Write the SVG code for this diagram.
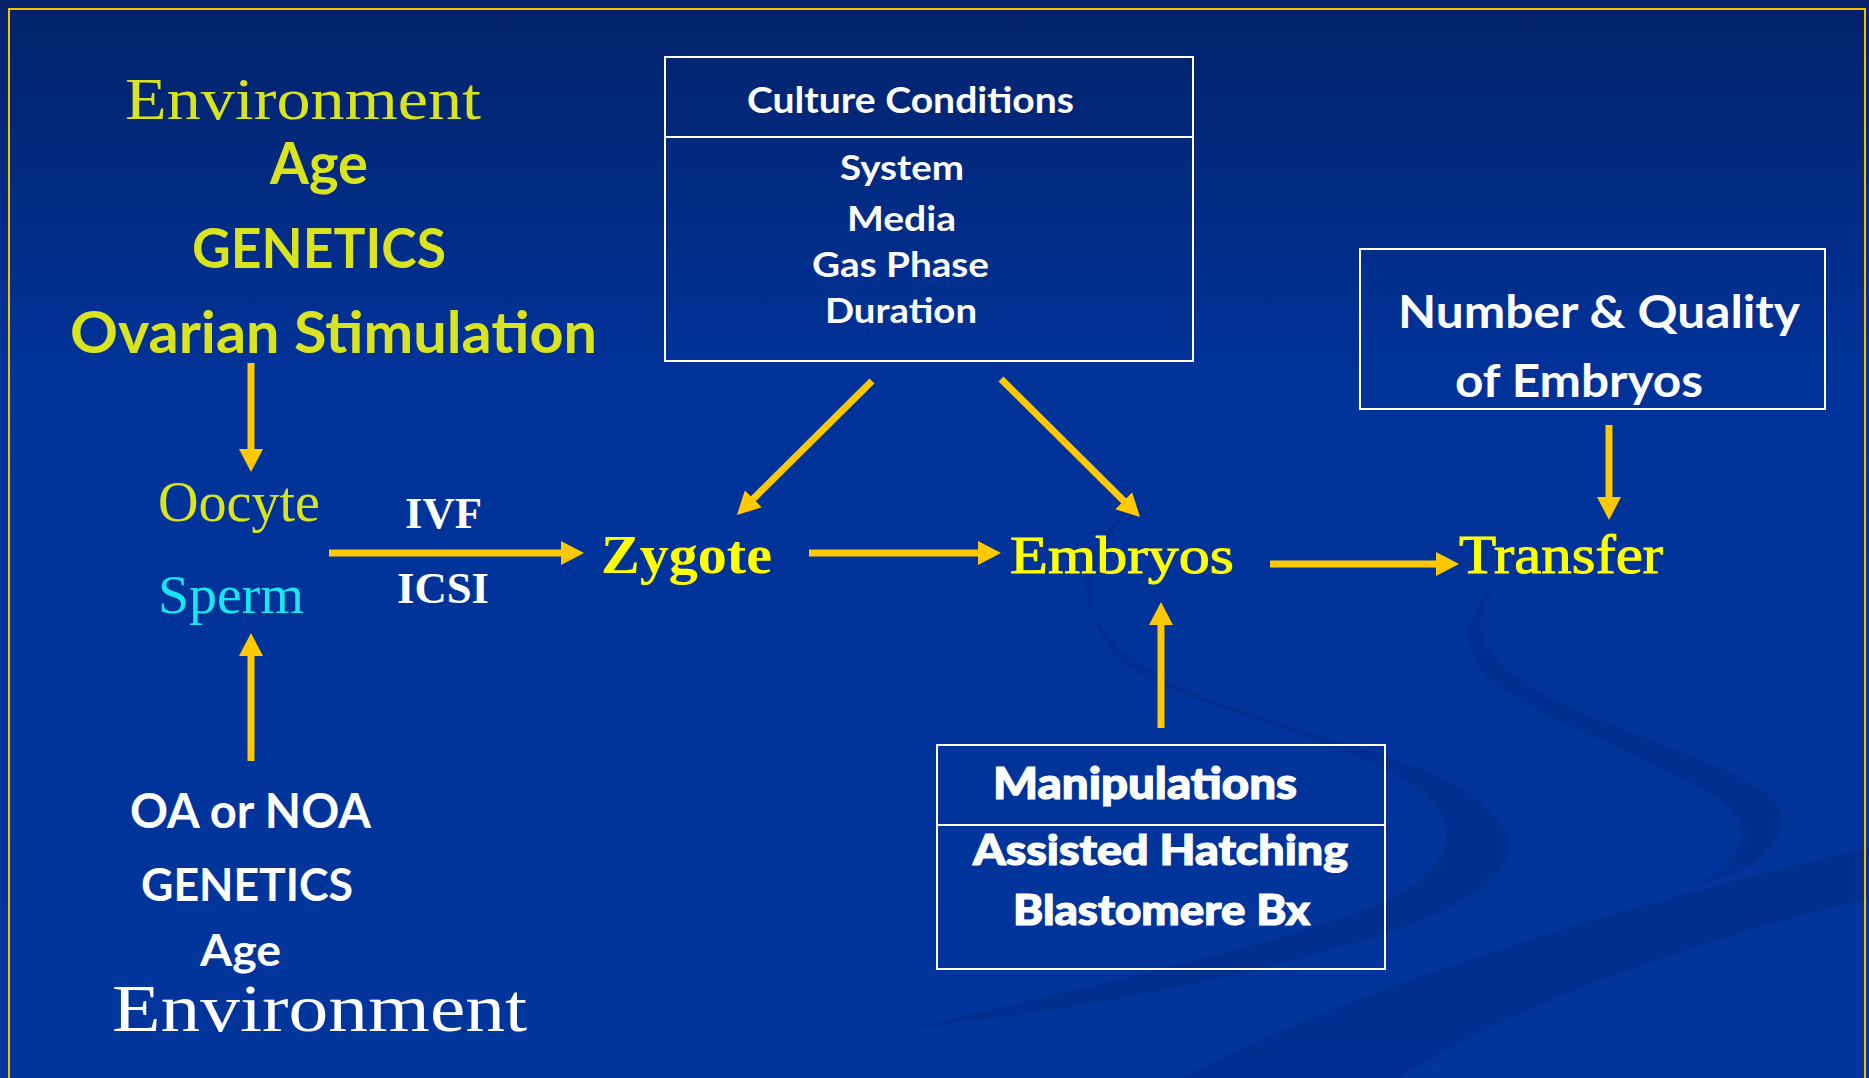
<svg xmlns="http://www.w3.org/2000/svg" width="1869" height="1078" viewBox="0 0 1869 1078">
  <defs>
    <linearGradient id="bg" x1="0" y1="0" x2="0" y2="1078" gradientUnits="userSpaceOnUse">
      <stop offset="0" stop-color="#03226a"/>
      <stop offset="0.35" stop-color="#00339a"/>
      <stop offset="1" stop-color="#00359c"/>
    </linearGradient>
    <marker id="ah" markerUnits="userSpaceOnUse" markerWidth="24" markerHeight="24" refX="1" refY="12" orient="auto">
      <path d="M0,0 L23,12 L0,24 Z" fill="#ffc800"/>
    </marker>
    <style>
      .serif { font-family: "Liberation Serif", "Times New Roman", serif; }
      .sans { font-family: Lato, "Open Sans", "Liberation Sans", sans-serif; font-weight: 700; }
      .heavy { font-family: Lato, "Open Sans", "Liberation Sans", sans-serif; font-weight: 900; stroke: #ffffff; stroke-width: 1.2; }
      .semi { stroke: #ffff00; stroke-width: 1; }
      .lime { fill: #d9e31f; }
      .yel { fill: #ffff00; }
      .wht { fill: #ffffff; }
      .cyan { fill: #19e6f2; }
      .box { fill: none; stroke: #ffffff; stroke-width: 2; }
      .arr { stroke: #ffc800; stroke-width: 7; fill: none; marker-end: url(#ah); }
      .swoosh { fill: #002a85; opacity: 0.5; }
    </style>
  </defs>

  <!-- background -->
  <rect x="0" y="0" width="1869" height="1078" fill="url(#bg)"/>
  <g id="decor">
    <path class="swoosh" d="M1135,505 C1060,560 1060,640 1210,700 C1330,745 1460,760 1505,830 C1530,880 1440,920 1330,950 C1230,980 1080,1010 900,1030 C1080,990 1250,950 1350,915 C1450,880 1470,830 1420,790 C1370,750 1240,720 1150,680 C1070,640 1080,560 1135,505 Z"/>
    <path class="swoosh" d="M1520,572 C1450,610 1470,670 1600,720 C1700,760 1800,790 1780,830 C1770,860 1730,880 1695,885 C1740,860 1760,830 1720,800 C1660,760 1540,720 1490,680 C1450,640 1470,595 1520,572 Z"/>
    <path class="swoosh" d="M1869,848 L1869,898 C1700,940 1520,1000 1400,1078 L1180,1078 C1350,990 1600,910 1869,848 Z"/>
  </g>
  <rect x="9" y="9" width="1856" height="1100" fill="none" stroke="#f2c000" stroke-width="2"/>

  <!-- connectors -->
  <g id="connectors">
    <line class="arr" x1="251" y1="363" x2="251" y2="450"/>
    <line class="arr" x1="251" y1="761" x2="251" y2="655"/>
    <line class="arr" x1="329" y1="553" x2="562" y2="553"/>
    <line class="arr" x1="872" y1="381" x2="752.6" y2="499.5"/>
    <line class="arr" x1="1001" y1="379" x2="1124.4" y2="501.5"/>
    <line class="arr" x1="809" y1="553" x2="979" y2="553"/>
    <line class="arr" x1="1161" y1="728" x2="1161" y2="624"/>
    <line class="arr" x1="1270" y1="564" x2="1437" y2="564"/>
    <line class="arr" x1="1609" y1="425" x2="1609" y2="498"/>
  </g>

  <!-- female factors -->
  <g id="female-factors">
    <text class="serif lime" x="125" y="119" font-size="60" textLength="356" lengthAdjust="spacingAndGlyphs">Environment</text>
    <text class="sans lime" x="270" y="184" font-size="57" textLength="98" lengthAdjust="spacingAndGlyphs">Age</text>
    <text class="sans lime" x="192" y="268" font-size="56" textLength="254" lengthAdjust="spacingAndGlyphs">GENETICS</text>
    <text class="sans lime" x="70" y="353" font-size="57" textLength="527" lengthAdjust="spacingAndGlyphs">Ovarian Stimulation</text>
  </g>

  <g id="culture-conditions">
    <rect class="box" x="665" y="57" width="528" height="304"/>
    <line class="box" x1="665" y1="137" x2="1193" y2="137"/>
    <text class="sans wht" x="747" y="113" font-size="36" textLength="327" lengthAdjust="spacingAndGlyphs">Culture Conditions</text>
    <text class="sans wht" x="840" y="180" font-size="35" textLength="124" lengthAdjust="spacingAndGlyphs">System</text>
    <text class="sans wht" x="847" y="231" font-size="35" textLength="109" lengthAdjust="spacingAndGlyphs">Media</text>
    <text class="sans wht" x="812" y="277" font-size="35" textLength="177" lengthAdjust="spacingAndGlyphs">Gas Phase</text>
    <text class="sans wht" x="825" y="323" font-size="35" textLength="152" lengthAdjust="spacingAndGlyphs">Duration</text>
  </g>

  <g id="number-quality">
    <rect class="box" x="1360" y="249" width="465" height="160"/>
    <text class="sans wht" x="1398" y="328" font-size="46" textLength="402" lengthAdjust="spacingAndGlyphs">Number &amp; Quality</text>
    <text class="sans wht" x="1455" y="397" font-size="46" textLength="248" lengthAdjust="spacingAndGlyphs">of Embryos</text>
  </g>

  <g id="oocyte">
    <text class="serif lime" x="158" y="521" font-size="56" textLength="162" lengthAdjust="spacingAndGlyphs">Oocyte</text>
  </g>
  <g id="sperm">
    <text class="serif cyan" x="158" y="613" font-size="55" textLength="146" lengthAdjust="spacingAndGlyphs">Sperm</text>
  </g>
  <g id="ivf-icsi">
    <text class="serif wht" x="405" y="528" font-size="45" font-weight="700" textLength="77" lengthAdjust="spacingAndGlyphs">IVF</text>
    <text class="serif wht" x="397" y="603" font-size="45" font-weight="700" textLength="92" lengthAdjust="spacingAndGlyphs">ICSI</text>
  </g>
  <g id="zygote">
    <text class="serif yel" x="601" y="573" font-size="55" font-weight="700" textLength="171" lengthAdjust="spacingAndGlyphs">Zygote</text>
  </g>
  <g id="embryos">
    <text class="serif yel semi" x="1010" y="573" font-size="53" textLength="224" lengthAdjust="spacingAndGlyphs">Embryos</text>
  </g>
  <g id="transfer">
    <text class="serif yel semi" x="1459" y="573" font-size="54" textLength="204" lengthAdjust="spacingAndGlyphs">Transfer</text>
  </g>

  <g id="male-factors">
    <text class="sans wht" x="130" y="828" font-size="47" textLength="241" lengthAdjust="spacingAndGlyphs">OA or NOA</text>
    <text class="sans wht" x="141" y="901" font-size="46" textLength="212" lengthAdjust="spacingAndGlyphs">GENETICS</text>
    <text class="sans wht" x="200" y="966" font-size="44" textLength="81" lengthAdjust="spacingAndGlyphs">Age</text>
    <text class="serif wht" x="112" y="1031" font-size="68" textLength="415" lengthAdjust="spacingAndGlyphs">Environment</text>
  </g>

  <g id="manipulations">
    <rect class="box" x="937" y="745" width="448" height="224"/>
    <line class="box" x1="937" y1="825" x2="1385" y2="825"/>
    <text class="heavy wht" x="993" y="799" font-size="44" textLength="304" lengthAdjust="spacingAndGlyphs">Manipulations</text>
    <text class="heavy wht" x="973" y="865" font-size="42" textLength="375" lengthAdjust="spacingAndGlyphs">Assisted Hatching</text>
    <text class="heavy wht" x="1013" y="925" font-size="42" textLength="297" lengthAdjust="spacingAndGlyphs">Blastomere Bx</text>
  </g>
</svg>
